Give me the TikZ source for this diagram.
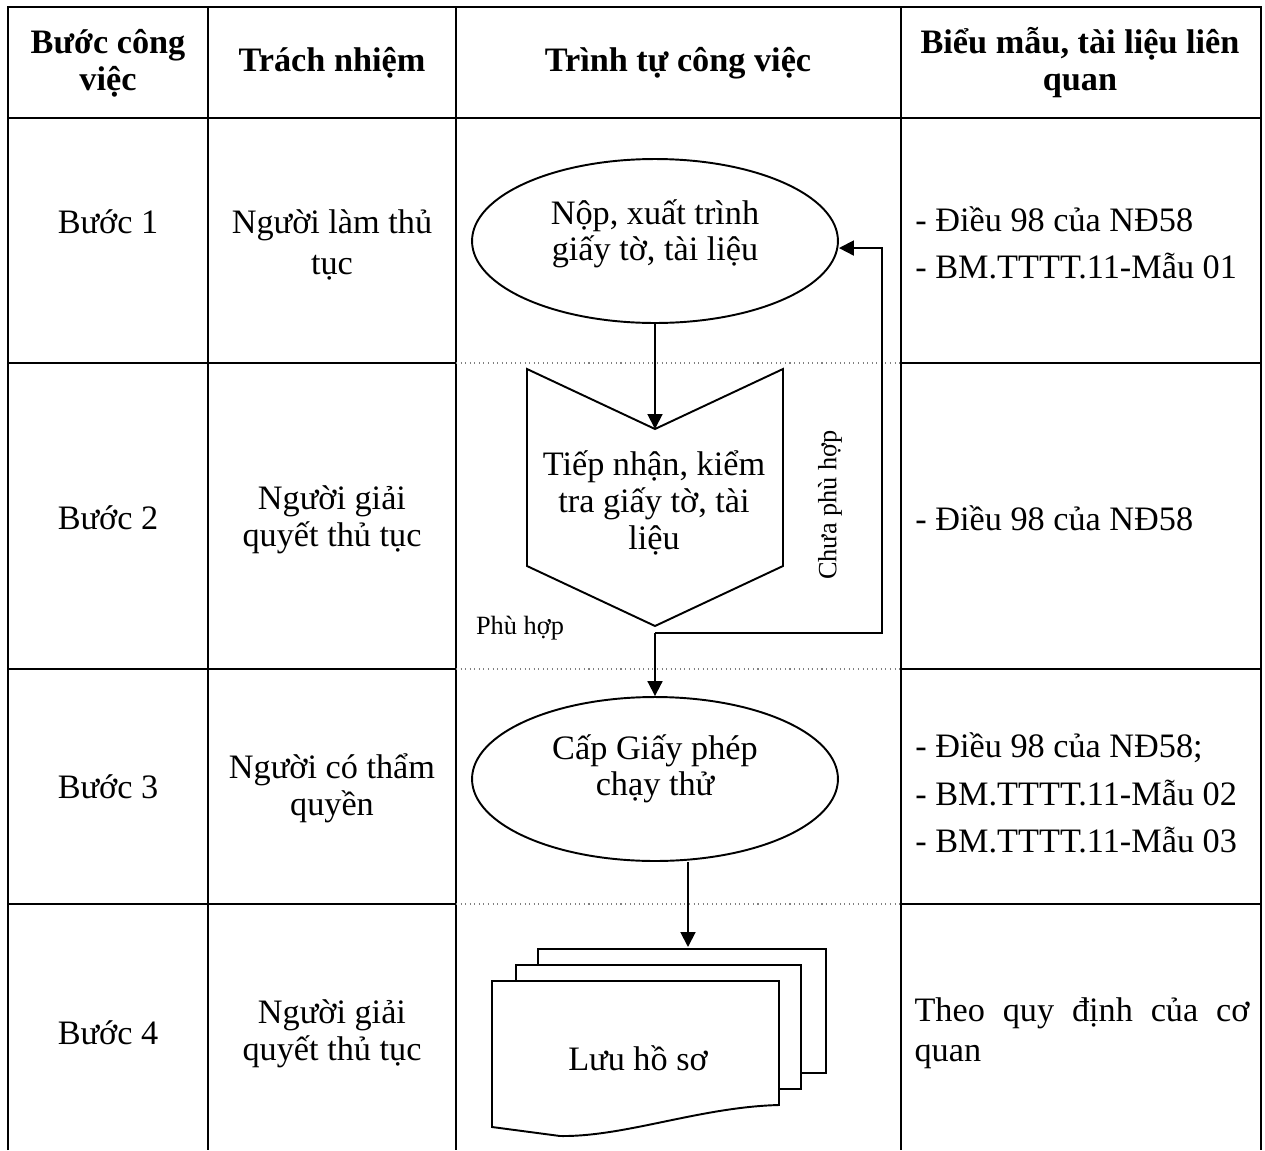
\documentclass[tikz,border=0pt]{standalone}
\usepackage{fontspec}
\setmainfont{Liberation Serif}
\usetikzlibrary{shapes,arrows.meta}

\newcommand\bodyfont{\fontsize{19.5}{21}\selectfont}
\newcommand\headfont{\fontsize{19.5}{21}\selectfont\bfseries}
\newcommand\reffont{\fontsize{19.5}{27}\selectfont}
\newcommand\notefont{\fontsize{15}{17}\selectfont}

\tikzset{
  cell/.style={align=center,inner sep=0pt,font=\bodyfont},
  head/.style={align=center,inner sep=0pt,font=\headfont},
  refs/.style={anchor=west,align=left,inner sep=0pt,font=\reffont},
  note/.style={inner sep=0pt,font=\notefont},
  oval/.style={shape=ellipse,draw=black,line width=1.1pt,minimum width=7.32cm,minimum height=3.28cm},
  flow/.style={draw=black,line width=1.1pt,-{Triangle[length=8.5pt,width=8.5pt]}},
  grid/.style={draw=black,line width=1.1pt},
  gridhead/.style={draw=black,line width=1.7pt},
  rowgap/.style={draw=gray,dotted,line width=0.6pt},
  paper/.style={draw=black,line width=1.1pt,fill=white}
}

\begin{document}
\begin{tikzpicture}[x=0.02cm,y=-0.02cm]
\useasboundingbox (0,0) rectangle (1265,1150);

% table
\path [grid] (8,1150) -- (8,7) -- (1261,7) -- (1261,1150);
\path [grid] (208,7) -- (208,1150);
\path [grid] (456,7) -- (456,1150);
\path [grid] (901,7) -- (901,1150);
\path [gridhead] (8,118) -- (1261,118);
\path [grid] (8,363) -- (456,363);
\path [grid] (901,363) -- (1261,363);
\path [rowgap] (456,363) -- (901,363);
\path [grid] (8,669) -- (456,669);
\path [grid] (901,669) -- (1261,669);
\path [rowgap] (456,669) -- (901,669);
\path [grid] (8,904) -- (456,904);
\path [grid] (901,904) -- (1261,904);
\path [rowgap] (456,904) -- (901,904);

% header
\node[head] (hstep) at (108,63) {Bước công\\việc};
\node[head] (hresp) at (332,63) {Trách nhiệm};
\node[head] (hflow) at (678,63) {Trình tự công việc};
\node[head] (hdocs) at (1080,63) {Biểu mẫu, tài liệu liên\\quan};

% steps
\node[cell] (step1) at (108,222) {Bước 1};
\node[cell] (step2) at (108,518) {Bước 2};
\node[cell] (step3) at (108,787) {Bước 3};
\node[cell] (step4) at (108,1033) {Bước 4};

\node[cell,font=\fontsize{19.5}{23}\selectfont] (resp1) at (332,245) {Người làm thủ\\tục};
\node[cell] (resp2) at (332,520) {Người giải\\quyết thủ tục};
\node[cell] (resp3) at (332,788) {Người có thẩm\\quyền};
\node[cell] (resp4) at (332,1034) {Người giải\\quyết thủ tục};

\node[refs] (docs1) at (915,243) {- Điều 98 của NĐ58\\- BM.TTTT.11-Mẫu 01};
\node[refs] (docs2) at (915,518) {- Điều 98 của NĐ58};
\node[refs] (docs3) at (915,793) {- Điều 98 của NĐ58;\\- BM.TTTT.11-Mẫu 02\\- BM.TTTT.11-Mẫu 03};
\node[cell,text width=6.7cm,align=justify,font=\fontsize{19.5}{22.5}\selectfont] (docs4) at (1082,1033) {Theo quy định của cơ quan};

% flow
\node[oval] (submit) at (655,241) {};
\node[cell,font=\fontsize{19.5}{20.5}\selectfont] (submittext) at (655,234) {Nộp, xuất trình\\giấy tờ, tài liệu};

\coordinate (chkTL) at (527,369);
\coordinate (chkIn) at (655,429);
\coordinate (chkTR) at (783,369);
\coordinate (chkBR) at (783,566);
\coordinate (chkOut) at (655,626);
\coordinate (chkBL) at (527,566);
\draw [grid] (chkTL) -- (chkIn) -- (chkTR) -- (chkBR) -- (chkOut) -- (chkBL) -- cycle;
\node[cell] (checktext) at (654,503) {Tiếp nhận, kiểm\\tra giấy tờ, tài\\liệu};

\node[oval] (issue) at (655,779) {};
\node[cell,font=\fontsize{19.5}{20.5}\selectfont] (issuetext) at (655,769) {Cấp Giấy phép\\chạy thử};

\node[note,rotate=90] (notok) at (830,505) {Chưa phù hợp};
\node[note] (ok) at (520,628) {Phù hợp};

\coordinate (split) at (655,633);
\coordinate (back) at (882,633);
\coordinate (stacktop) at (688,947);

\path [flow] (submit.south) -- (chkIn);
\path [flow] (split) -- (issue.north);
\path [flow] (split) -- (back) |- ([yshift=-4pt]submit.east);
\path [flow] (issue.south -| stacktop) -- (stacktop);

% files
\path [paper] (538,949) rectangle (826,1073);
\path [paper] (516,965) rectangle (801,1089);
\path [paper] (492,981) -- (779,981) -- (779,1105)
  .. controls (700,1107) and (625,1137) .. (560,1136) -- (492,1127) -- cycle;
\node[cell] (store) at (638,1058) {Lưu hồ sơ};
\end{tikzpicture}
\end{document}
